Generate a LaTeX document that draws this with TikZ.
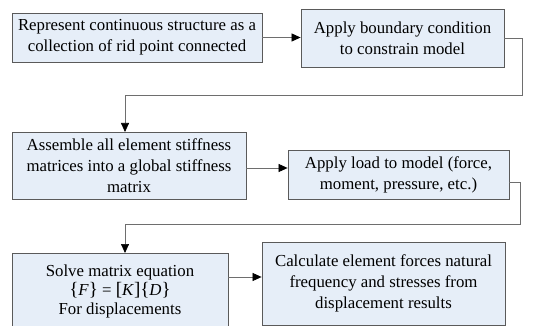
\documentclass[tikz,border=0pt]{standalone}
\usepackage{fontspec}
\setmainfont{Liberation Serif}
\usetikzlibrary{arrows.meta}
\definecolor{boxfill}{HTML}{E6EEF8}
\definecolor{boxline}{HTML}{5A5A5A}
\definecolor{wire}{HTML}{6E6E6E}
\newcommand{\bigbr}[1]{{\fontsize{19}{19}\selectfont #1}}
\begin{document}
\begin{tikzpicture}[x=1pt,y=-1pt,
  flowbox/.style={draw=boxline,fill=boxfill,line width=0.8pt,align=center,inner sep=1pt,
    font=\fontsize{16.8}{21}\selectfont},
  wireline/.style={draw=wire,line width=0.7pt},
  tip/.style={-{Triangle[length=9pt,width=8pt,color=black]}}]
\useasboundingbox (0,0) rectangle (549,326);
\node[flowbox,minimum width=250pt,minimum height=49pt] (b1) at (137,37.5)
  {Represent continuous structure as a\\collection of rid point connected};
\node[flowbox,minimum width=203pt,minimum height=58pt] (b2) at (402.5,38)
  {Apply boundary condition\\to constrain model};
\node[flowbox,minimum width=234pt,minimum height=67pt] (b3) at (129,165.5)
  {Assemble all element stiffness\\matrices into a global stiffness\\matrix};
\node[flowbox,minimum width=221pt,minimum height=49pt] (b4) at (398.5,174.5)
  {Apply load to model (force,\\moment, pressure, etc.)};
\node[flowbox,minimum width=216pt,minimum height=77pt,font=\fontsize{16.8}{19}\selectfont] (b5) at (120,291.5)
  {Solve matrix equation\\\bigbr{\{}\textit{F}\bigbr{\}} = \bigbr{[}\textit{K}\bigbr{]}\bigbr{\{}\textit{D}\bigbr{\}}\\For displacements};
\node[flowbox,minimum width=243pt,minimum height=83pt] (b6) at (383.5,283.5)
  {Calculate element forces natural\\frequency and stresses from\\displacement results};
\coordinate (t3) at (125,132);
\coordinate (t5) at (125,253);
\draw[wireline,tip] (b1.east) -- (b1.east -| b2.west);
\draw[wireline,tip] (b2.east) -- (522,38) -- (522,95) -- (125,95) -- (t3);
\draw[wireline,tip] (b3.east |- 0,168) -- (b4.west |- 0,168);
\draw[wireline,tip] (b4.east |- 0,182) -- (520,182) -- (520,224) -- (125,224) -- (t5);
\draw[wireline,tip] (b5.east |- 0,277) -- (b6.west |- 0,277);
\end{tikzpicture}
\end{document}
